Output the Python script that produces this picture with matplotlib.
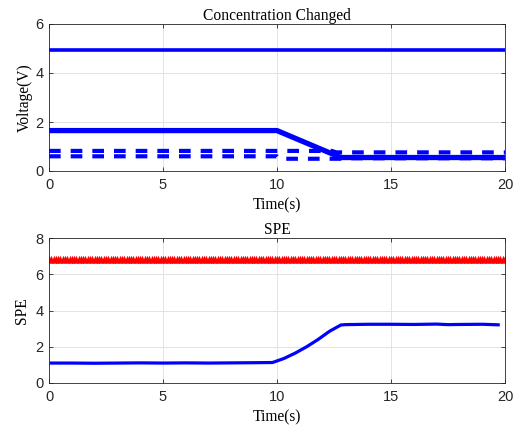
import matplotlib
matplotlib.use("Agg")
import matplotlib.pyplot as plt
import numpy as np

# ---- data ----
v_top_t = [0, 20]
v_top = [4.93, 4.93]

v_main_t = [0, 10, 12.8, 20]
v_main = [1.65, 1.65, 0.55, 0.55]

v_dash1_t = [0, 12.4, 12.6, 20]
v_dash1 = [0.82, 0.82, 0.76, 0.76]

v_dash2_t = [0, 10, 10.1, 13, 13.1, 20]
v_dash2 = [0.60, 0.60, 0.50, 0.50, 0.52, 0.52]

spe_t = [0.1, 1, 2, 3, 4, 5, 6, 7, 8, 9, 9.8, 10.3, 10.8, 11.3, 11.8, 12.3, 12.8, 13.0,
         14, 15, 16, 17, 17.5, 18, 19, 19.7]
spe = [1.10, 1.10, 1.09, 1.10, 1.11, 1.10, 1.11, 1.10, 1.11, 1.12, 1.13, 1.35, 1.65, 2.00,
       2.40, 2.85, 3.20, 3.22, 3.24, 3.24, 3.23, 3.25, 3.22, 3.23, 3.24, 3.21]

spe_limit = 6.78
limit_t = np.arange(0, 20.01, 0.1)

xticks = [0, 5, 10, 15, 20]
yticks_top = [0, 2, 4, 6]
yticks_bot = [0, 2, 4, 6, 8]

serif = "Liberation Serif"
sans = "Liberation Sans"

fig = plt.figure(figsize=(5.32, 4.29), dpi=100)
W, H = 532, 429
ax1 = fig.add_axes([49 / W, 1 - 171 / H, 456 / W, 147 / H])
ax2 = fig.add_axes([49 / W, 1 - 383 / H, 456 / W, 145 / H])

blue = "#0000ff"
ax1.plot(v_top_t, v_top, color=blue, lw=2.6)
ax1.plot(v_main_t, v_main, color=blue, lw=3.8)
ax1.plot(v_dash1_t, v_dash1, color=blue, lw=3.0, ls=(0, (2.8, 2.4)))
ax1.plot(v_dash2_t, v_dash2, color=blue, lw=3.0, ls=(0, (2.8, 2.4)))

ax2.plot(limit_t, np.full(len(limit_t), spe_limit), color="red", lw=1.0,
         marker="*", ms=6, mew=0.6)
ax2.plot(spe_t, spe, color=blue, lw=2.3)

for ax, yt in ((ax1, yticks_top), (ax2, yticks_bot)):
    ax.set_xlim(0, 20)
    ax.set_ylim(yt[0], yt[-1])
    ax.set_xticks(xticks)
    ax.set_yticks(yt)
    ax.grid(True, color="#e3e3e3", lw=0.7)
    ax.set_axisbelow(True)
    ax.tick_params(direction="in", top=True, right=True, length=3,
                   labelsize=10.5, colors="#262626", width=0.6)
    ax.tick_params(axis="x", pad=5)
    ax.tick_params(axis="y", pad=4)
    for lab in ax.get_xticklabels() + ax.get_yticklabels():
        lab.set_fontfamily(sans)
    for s in ax.spines.values():
        s.set_color("#262626")
        s.set_linewidth(0.6)
    ax.set_xlabel("Time(s)", fontfamily=serif, fontsize=11.2, labelpad=4)

ax1.set_ylabel("Voltage(V)", fontfamily=serif, fontsize=11.2, labelpad=2)
ax2.set_ylabel("SPE", fontfamily=serif, fontsize=11.2, labelpad=4)
ax1.set_title("Concentration Changed", fontfamily=serif, fontsize=11.2, pad=3)
ax2.set_title("SPE", fontfamily=serif, fontsize=11.2, pad=3)

fig.savefig("out.png", dpi=100)
